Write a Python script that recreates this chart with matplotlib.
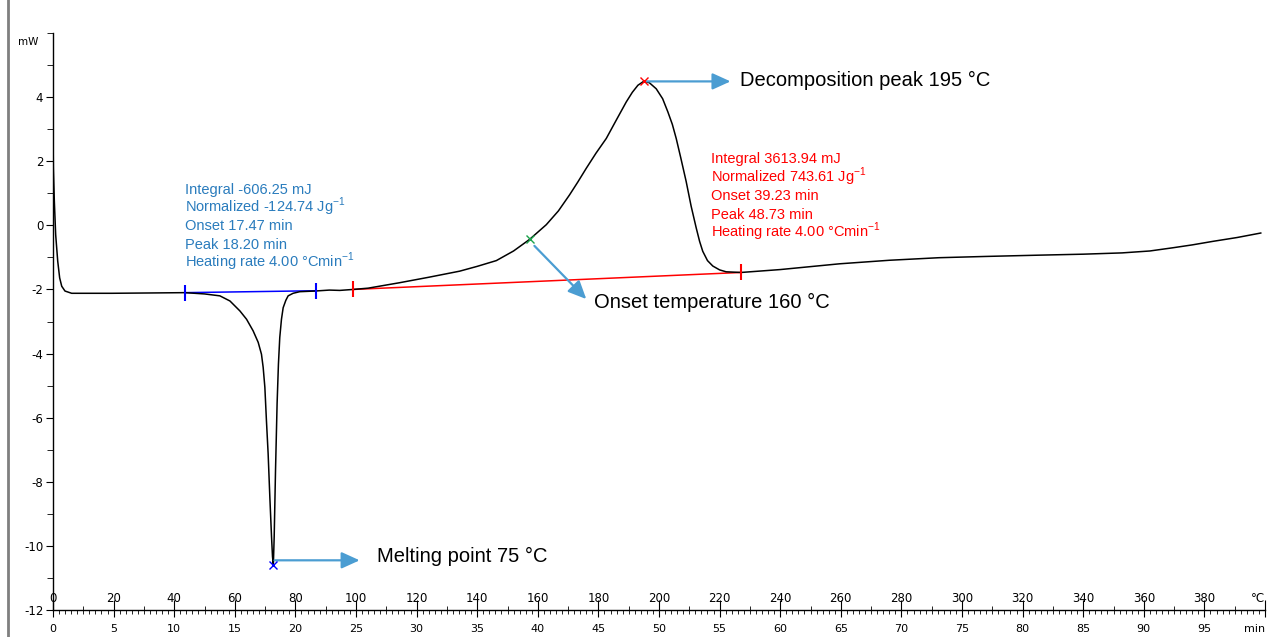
import numpy as np
import matplotlib.pyplot as plt
from matplotlib.lines import Line2D
from matplotlib.ticker import MultipleLocator

# DSC curve: time (min) vs heat flow (mW)
time_min = [0.0, 0.03, 0.11, 0.22, 0.39, 0.55, 0.72, 0.99, 1.54, 3.0, 4.84, 8.0, 10.88,
            12.5, 13.77, 14.6, 15.42, 15.97, 16.51, 16.93, 17.2, 17.34, 17.48, 17.61,
            17.75, 17.89, 18.03, 18.11, 18.18, 18.25, 18.36, 18.49, 18.6, 18.71, 18.85,
            18.99, 19.21, 19.4, 19.81, 20.36, 21.6, 22.8, 23.66, 24.76, 26.0, 28.6, 31.0,
            33.55, 35.0, 36.58, 38.0, 39.32, 40.7, 41.7, 42.62, 43.3, 44.0, 44.8, 45.65,
            46.5, 47.3, 47.8, 48.26, 48.73, 49.2, 49.77, 50.3, 50.73, 51.1, 51.42, 51.8,
            52.24, 52.65, 53.07, 53.35, 53.61, 54.0, 54.44, 55.0, 55.54, 56.78, 60.0,
            64.9, 69.0, 73.1, 77.0, 81.4, 85.0, 88.2, 90.5, 92.4, 94.0, 95.7, 97.7, 99.65]
heat_flow = [2.98, 1.78, 0.75, -0.29, -1.12, -1.64, -1.9, -2.05, -2.12, -2.12, -2.12, -2.11, -2.10,
             -2.14, -2.2, -2.36, -2.67, -2.93, -3.29, -3.65, -4.02, -4.43, -5.05, -6.09,
             -7.12, -8.47, -9.71, -10.33, -10.6, -9.71, -7.64, -5.56, -4.33, -3.5, -2.93,
             -2.57, -2.34, -2.2, -2.12, -2.07, -2.05, -2.02, -2.03, -2.0, -1.96, -1.79, -1.62,
             -1.43, -1.28, -1.1, -0.8, -0.44, 0.02, 0.45, 0.95, 1.35, 1.78, 2.25, 2.71,
             3.3, 3.85, 4.15, 4.37, 4.49, 4.45, 4.26, 3.95, 3.54, 3.15, 2.71, 2.1,
             1.37, 0.6, -0.08, -0.5, -0.81, -1.1, -1.27, -1.39, -1.45, -1.47, -1.38,
             -1.2, -1.09, -1.01, -0.97, -0.93, -0.9, -0.86, -0.8, -0.7, -0.61, -0.5, -0.38, -0.24]

# integration limits / baselines
melt_base_t = [10.88, 21.7]
melt_base_y = [-2.10, -2.04]
dec_base_t = [24.76, 56.78]
dec_base_y = [-2.0, -1.47]

melt_peak = (18.18, -10.6)
dec_peak = (48.73, 4.49)
dec_onset = (39.32, -0.44)

melt_info = ['Integral -606.25 mJ', 'Normalized -124.74 Jg$^{-1}$', 'Onset 17.47 min',
             'Peak 18.20 min', 'Heating rate 4.00 °Cmin$^{-1}$']
dec_info = ['Integral 3613.94 mJ', 'Normalized 743.61 Jg$^{-1}$', 'Onset 39.23 min',
            'Peak 48.73 min', 'Heating rate 4.00 °Cmin$^{-1}$']

min_ticks = list(range(0, 100, 5))
min_labels = [str(v) for v in min_ticks]
temp_ticks = list(range(0, 400, 20))
temp_labels = [str(v) for v in temp_ticks]

plt.rcParams['font.family'] = ['Liberation Sans', 'DejaVu Sans']
plt.rcParams['mathtext.fontset'] = 'custom'
plt.rcParams['mathtext.rm'] = 'Liberation Sans'
plt.rcParams['axes.unicode_minus'] = False

arrow_c = '#4b9dd2'
blue_txt = '#2a7cbd'

fig = plt.figure(figsize=(12.69, 6.37), dpi=100)
ax = fig.add_axes([53/1269, 1 - 610/637, (1265 - 53)/1269, (610 - 33)/637])
fig.add_artist(Line2D([8/1269, 8/1269], [0, 1], color='#7f7f7f', lw=2))

ax.plot(time_min, heat_flow, color='black', lw=1.1, zorder=3)
ax.plot(melt_base_t, melt_base_y, color='#0000ff', lw=1.1, zorder=2)
ax.plot(dec_base_t, dec_base_y, color='#ff0000', lw=1.1, zorder=2)
ax.plot(melt_base_t, melt_base_y, ls='none', marker='|', ms=11, mew=1.5, color='#0000ff', zorder=4)
ax.plot(dec_base_t, dec_base_y, ls='none', marker='|', ms=11, mew=1.5, color='#ff0000', zorder=4)
ax.plot(*melt_peak, marker='x', color='#0000ff', ms=6, mew=1, zorder=5)
ax.plot(*dec_peak, marker='x', color='#ff0000', ms=6, mew=1, zorder=5)
ax.plot(*dec_onset, marker='x', color='#1aa34a', ms=6, mew=1, zorder=5)

astyle = dict(arrowstyle='-|>,head_length=0.55,head_width=0.25', mutation_scale=20,
              color=arrow_c, lw=1.6, shrinkA=0, shrinkB=0)
ax.annotate('', xy=(25.3, melt_peak[1] + 0.15), xytext=(melt_peak[0] + 0.1, melt_peak[1] + 0.15),
            arrowprops=astyle)
ax.annotate('', xy=(55.9, dec_peak[1]), xytext=(dec_peak[0] + 0.2, dec_peak[1]), arrowprops=astyle)
ax.annotate('', xy=(44.0, -2.3), xytext=(dec_onset[0] + 0.4, dec_onset[1] - 0.2), arrowprops=astyle)

ax.text(26.7, -10.34, 'Melting point 75 °C', fontsize=14.5, va='center')
ax.text(56.7, 4.53, 'Decomposition peak 195 °C', fontsize=14.5, va='center')
ax.text(44.6, -2.42, 'Onset temperature 160 °C', fontsize=14.5, va='center')

step = 18.5 / 32.2
for i, s in enumerate(melt_info):
    ax.text(10.9, 0.99 - i * step, s, color=blue_txt, fontsize=10.5, va='baseline')
for i, s in enumerate(dec_info):
    ax.text(54.3, 1.93 - i * step, s, color='#ff0000', fontsize=10.5, va='baseline')

ax.set_xlim(0, 100)
ax.set_ylim(-12, 6)
ax.spines[['top', 'right']].set_visible(False)
for sp in ('left', 'bottom'):
    ax.spines[sp].set_linewidth(1.0)

ax.set_yticks(range(-12, 5, 2))
ax.yaxis.set_minor_locator(MultipleLocator(1))
ax.tick_params(axis='y', which='major', direction='out', length=5, labelsize=8.5, pad=2)
ax.tick_params(axis='y', which='minor', direction='out', length=4)
ax.text(-0.012, 0.985, 'mW', transform=ax.transAxes, ha='right', va='center', fontsize=7.5,
        family='DejaVu Sans')

ax.set_xticks(min_ticks + [100], labels=min_labels + ['min'], fontsize=8, family='DejaVu Sans')
ax.xaxis.set_minor_locator(MultipleLocator(0.5))
ax.tick_params(axis='x', which='major', direction='out', length=5, pad=5)
ax.tick_params(axis='x', which='minor', direction='out', length=3)
for lab in ax.get_yticklabels():
    lab.set_family('DejaVu Sans')
ax.get_xticklabels()[-1].set_ha('right')

sec = ax.secondary_xaxis('bottom', functions=(lambda m: m * 4, lambda t: t / 4))
sec.set_xticks(temp_ticks + [400], labels=temp_labels + ['°C'], fontsize=8.5, family='DejaVu Sans')
sec.xaxis.set_minor_locator(MultipleLocator(10))
sec.tick_params(which='major', direction='in', length=7, pad=-13)
sec.tick_params(which='minor', direction='in', length=3)
sec.spines['bottom'].set_visible(False)
sec.get_xticklabels()[-1].set_ha('right')

fig.savefig('out.png', dpi=100)
